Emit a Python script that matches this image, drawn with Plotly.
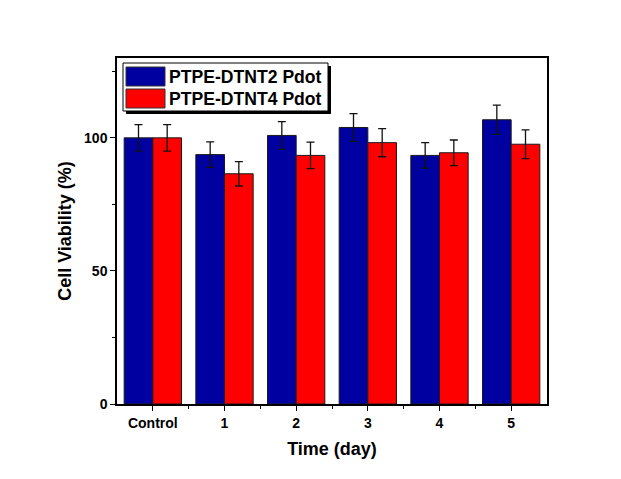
import plotly.graph_objects as go

categories = ["Control", "1", "2", "3", "4", "5"]
series_names = ["PTPE-DTNT2 Pdot", "PTPE-DTNT4 Pdot"]
dtnt2_values = [100.0, 93.7, 100.9, 103.9, 93.4, 106.8]
dtnt2_errors = [5.0, 4.8, 5.2, 5.2, 4.8, 5.5]
dtnt4_values = [100.0, 86.5, 93.4, 98.2, 94.4, 97.6]
dtnt4_errors = [5.0, 4.6, 5.0, 5.3, 4.8, 5.4]
y_ticks = [0, 50, 100]

colors = ["#0000A0", "#FF0000"]
FONT = "Liberation Sans, Arial, sans-serif"
xpos = list(range(len(categories)))

fig = go.Figure()
for name, vals, errs, col in zip(series_names, [dtnt2_values, dtnt4_values],
                                 [dtnt2_errors, dtnt4_errors], colors):
    fig.add_trace(go.Bar(
        x=xpos, y=vals, name=name, offsetgroup=name,
        marker=dict(color=col, line=dict(color="#1a1a1a", width=1)),
        error_y=dict(type="data", array=errs, visible=True,
                     color="#111111", thickness=1.3, width=4),
        showlegend=False,
    ))

# page has an 8px body margin, so the figure is shifted by 8px
fig.update_layout(
    width=605, height=463,
    margin=dict(l=109, r=66, t=50, b=67),
    paper_bgcolor="#ffffff", plot_bgcolor="#ffffff",
    barmode="group", bargap=0.2, bargroupgap=0,
    font=dict(family=FONT, color="#000000"),
)
fig.update_xaxes(
    range=[-0.5, 5.5], tickmode="array", tickvals=xpos,
    ticktext=[f"<b>{c}</b>" for c in categories],
    tickfont=dict(size=14, family=FONT),
    ticks="outside", ticklen=5, tickwidth=1.2, tickcolor="#000",
    minor=dict(tickmode="array", tickvals=[i + 0.5 for i in xpos[:-1]],
               ticks="outside", ticklen=3, tickcolor="#000", tickwidth=1),
    showline=True, linecolor="#000", linewidth=1.5, mirror=True,
    showgrid=False, zeroline=False,
    title=dict(text="<b>Time (day)</b>", font=dict(size=18, family=FONT), standoff=13),
)
fig.update_yaxes(
    range=[0, 130], tickmode="array", tickvals=y_ticks,
    ticktext=[f"<b>{t}</b>" for t in y_ticks],
    tickfont=dict(size=14, family=FONT),
    ticks="outside", ticklen=5, tickwidth=1.2, tickcolor="#000",
    minor=dict(tickmode="array", tickvals=[25, 75, 125],
               ticks="outside", ticklen=3, tickcolor="#000", tickwidth=1),
    showline=True, linecolor="#000", linewidth=1.5, mirror=True,
    showgrid=False, zeroline=False,
    title=dict(text="<b>Cell Viability (%)</b>", font=dict(size=18, family=FONT), standoff=8),
)

# Custom legend (Origin-style box with shadow); pixel coords of the reference image
L, R, T, B = 117, 547, 58, 404
def px(x): return (x - L) / (R - L)
def py(y): return (B - y) / (B - T)

shapes = [
    dict(type="rect", xref="paper", yref="paper", x0=px(126), x1=px(331), y0=py(114), y1=py(66),
         fillcolor="#000", line=dict(width=0), layer="above"),
    dict(type="rect", xref="paper", yref="paper", x0=px(123), x1=px(328), y0=py(111), y1=py(63),
         fillcolor="#fff", line=dict(color="#000", width=1), layer="above"),
]
sw_y = [(67, 86), (89, 108)]
for (y0, y1), col, name in zip(sw_y, colors, series_names):
    shapes.append(dict(type="rect", xref="paper", yref="paper", x0=px(126), x1=px(165),
                       y0=py(y1), y1=py(y0), fillcolor=col,
                       line=dict(color="#333", width=1), layer="above"))
    fig.add_annotation(xref="paper", yref="paper", x=px(167), y=py((y0 + y1) / 2),
                       text=f"<b>{name}</b>", showarrow=False, xanchor="left", yanchor="middle",
                       font=dict(size=17.6, family=FONT, color="#000"))
fig.update_layout(shapes=shapes)

fig.write_html("out.html")
